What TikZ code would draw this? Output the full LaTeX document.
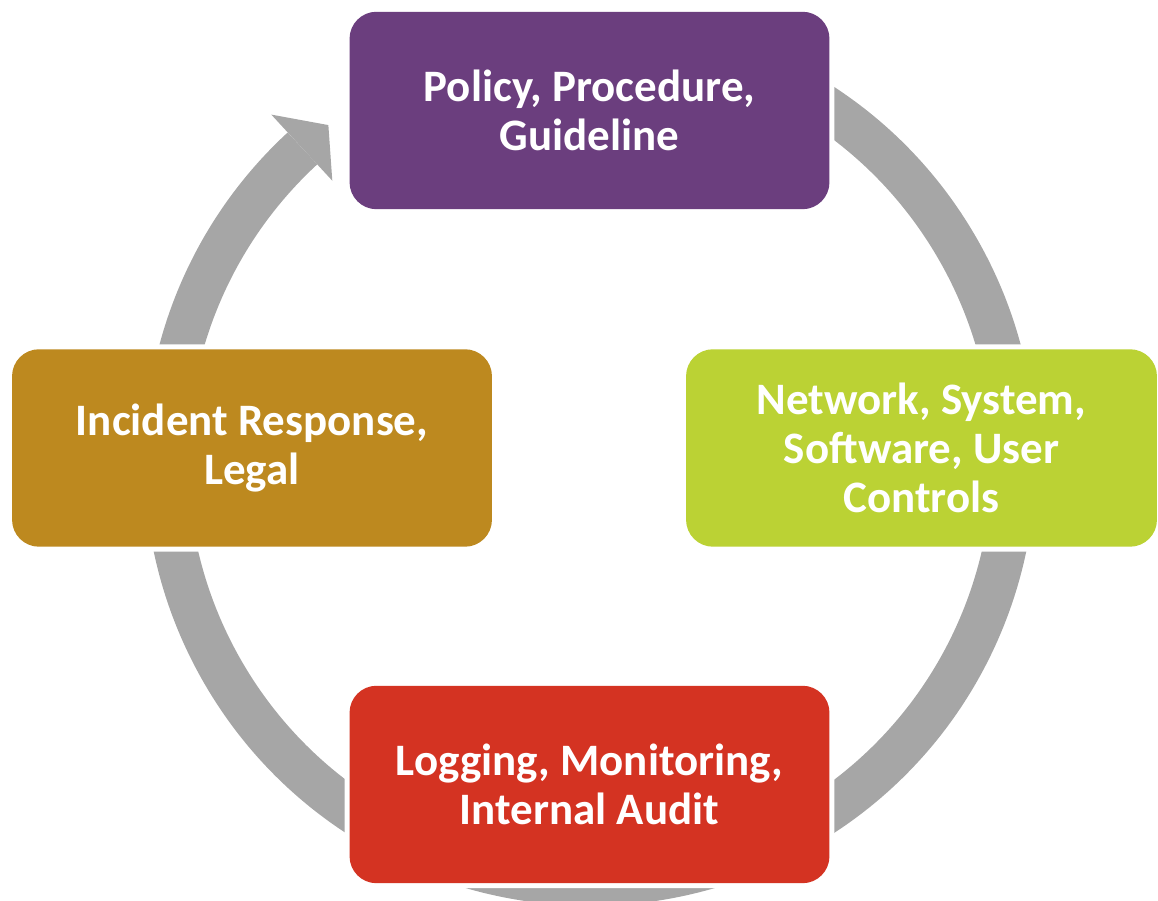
\documentclass[tikz,border=0pt]{standalone}
\usepackage{fontspec}
\setmainfont{Carlito}
\usetikzlibrary{calc}
\definecolor{policypurple}{RGB}{107,62,126}
\definecolor{controlgreen}{RGB}{187,210,52}
\definecolor{auditred}{RGB}{212,51,34}
\definecolor{legalgold}{RGB}{189,137,31}
\definecolor{ringgray}{RGB}{166,166,166}
\begin{document}
\begin{tikzpicture}[x=0.02cm, y=0.02cm,
		stagebox/.style={rounded corners=0.54cm, minimum width=9.6cm, minimum height=3.95cm,
			align=center, text=white, font=\fontsize{25.6}{27.9}\selectfont\bfseries,
			preaction={draw=white, line width=0.2cm}},
		ringpart/.style={ringgray, line width=0.87cm}]
	\useasboundingbox (0,0) rectangle (1158,901);
	\coordinate (hub) at (590,441);
	% grey cycle with its head
	\draw[ringpart] (hub) ++(120:424) arc[start angle=120, end angle=-227.3, radius=424];
	\fill[ringgray] ($(hub)+(132.7:470)$) -- ($(hub)+(128:425)$) -- ($(hub)+(132.7:380)$) -- cycle;
	% the four stages
	\node[stagebox, fill=policypurple] (policy) at (589.5,790.5) {Policy, Procedure,\\Guideline};
	\node[stagebox, fill=controlgreen, minimum width=9.42cm] (controls) at (921.5,453) {Network, System,\\Software, User\\Controls};
	\node[stagebox, fill=auditred] (audit) at (589.5,116.5) {Logging, Monitoring,\\Internal Audit};
	\node[stagebox, fill=legalgold] (response) at (252,453) {Incident Response,\\Legal};
\end{tikzpicture}
\end{document}
